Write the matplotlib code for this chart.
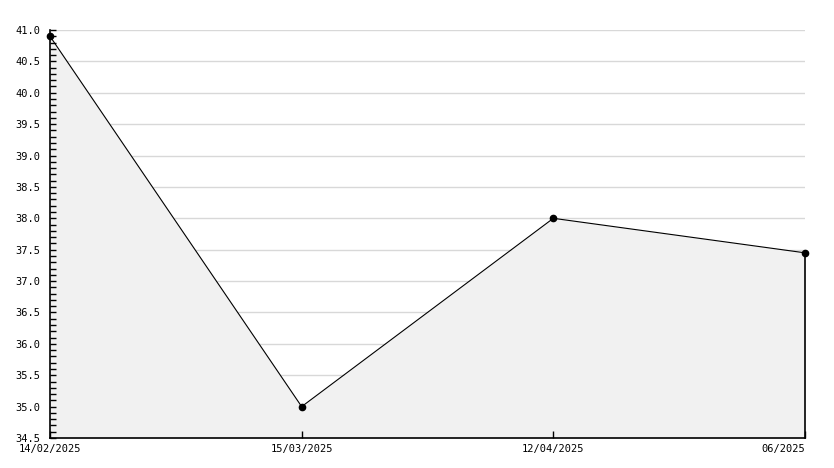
import matplotlib
matplotlib.use("Agg")
import matplotlib.pyplot as plt
from matplotlib.ticker import MultipleLocator

dates = ["14/02/2025", "15/03/2025", "12/04/2025", "06/2025"]
values = [40.9, 35.0, 38.0, 37.45]
y_ticks = [34.5, 35.0, 35.5, 36.0, 36.5, 37.0, 37.5, 38.0, 38.5, 39.0, 39.5, 40.0, 40.5, 41.0]

W, H = 834, 468
fig = plt.figure(figsize=(W / 100, H / 100), dpi=100)
ax = fig.add_axes([50 / W, (H - 438) / H, 755 / W, 408 / H])

x = list(range(len(values)))
for v in y_ticks[1:]:
    ax.axhline(v, color="#d8d8d8", linewidth=1, zorder=0.5)
ax.fill_between(x, values, 34.5, color="#f1f1f1", zorder=1, linewidth=0)
ax.plot([x[-1], x[-1]], [34.5, values[-1]], color="black", linewidth=1.2,
        zorder=3, clip_on=False)
ax.plot(x, values, color="black", linewidth=0.8, marker="o", markersize=4.5,
        zorder=4, clip_on=False)

ax.set_xlim(x[0], x[-1])
ax.set_ylim(34.5, 41.0)
ax.set_yticks(y_ticks)
ax.set_yticklabels([f"{v:.1f}" for v in y_ticks])
ax.yaxis.set_minor_locator(MultipleLocator(0.1))
ax.set_xticks(x)
ax.set_xticklabels(dates)

mono = "DejaVu Sans Mono"
for lab in ax.get_yticklabels() + ax.get_xticklabels():
    lab.set_fontfamily(mono)
    lab.set_fontsize(7.5)
xl = ax.get_xticklabels()
xl[-1].set_ha("right")

for s in ["top", "right"]:
    ax.spines[s].set_visible(False)
ax.spines["left"].set_linewidth(1.2)
ax.spines["bottom"].set_linewidth(1.2)
ax.spines["left"].set_zorder(5)
ax.spines["bottom"].set_zorder(5)

ax.tick_params(axis="y", which="major", direction="in", length=4, width=1, pad=7)
ax.tick_params(axis="y", which="minor", direction="in", length=4, width=1)
ax.tick_params(axis="x", which="major", direction="in", length=5, width=1, pad=4)
ax.tick_params(axis="x", which="minor", bottom=False)

fig.savefig("out.png", dpi=100)
